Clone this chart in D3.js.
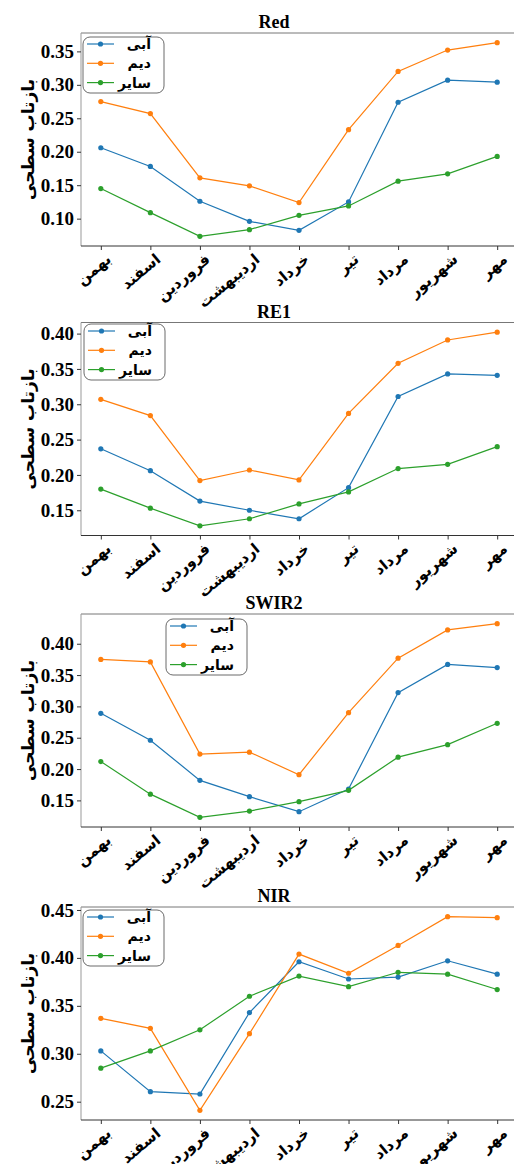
<!DOCTYPE html>
<html>
<head>
<meta charset="utf-8">
<script src="https://cdn.jsdelivr.net/npm/d3@7"></script>
<style>
  body { margin: 0; background: #fff; }
  svg { display: block; }
</style>
</head>
<body>
<div id="chart"></div>
<script>
// Months (x categories) and series names
const months = ["بهمن", "اسفند", "فروردین", "اردیبهشت", "خرداد", "تیر", "مرداد", "شهریور", "مهر"];
const seriesNames = ["آبی", "دیم", "سایر"];
const yLabel = "بازتاب سطحی";

// Red band
const redAbi   = [0.206, 0.178, 0.126, 0.096, 0.0825, 0.125, 0.274, 0.307, 0.304];
const redDeym  = [0.275, 0.257, 0.161, 0.149, 0.124, 0.233, 0.320, 0.352, 0.363];
const redSayer = [0.145, 0.109, 0.0736, 0.0836, 0.105, 0.119, 0.156, 0.167, 0.193];
const redTicks = [0.10, 0.15, 0.20, 0.25, 0.30, 0.35];

// RE1 band
const re1Abi   = [0.237, 0.206, 0.163, 0.150, 0.138, 0.182, 0.311, 0.343, 0.341];
const re1Deym  = [0.307, 0.284, 0.192, 0.207, 0.193, 0.287, 0.358, 0.391, 0.402];
const re1Sayer = [0.180, 0.153, 0.128, 0.138, 0.159, 0.176, 0.209, 0.215, 0.240];
const re1Ticks = [0.15, 0.20, 0.25, 0.30, 0.35, 0.40];

// SWIR2 band
const swirAbi   = [0.289, 0.246, 0.182, 0.156, 0.132, 0.168, 0.322, 0.367, 0.362];
const swirDeym  = [0.375, 0.371, 0.224, 0.227, 0.191, 0.290, 0.377, 0.422, 0.432];
const swirSayer = [0.212, 0.160, 0.123, 0.133, 0.148, 0.166, 0.219, 0.239, 0.273];
const swirTicks = [0.15, 0.20, 0.25, 0.30, 0.35, 0.40];

// NIR band
const nirAbi   = [0.303, 0.2605, 0.258, 0.343, 0.396, 0.378, 0.380, 0.397, 0.383];
const nirDeym  = [0.337, 0.3265, 0.241, 0.321, 0.404, 0.384, 0.413, 0.443, 0.442];
const nirSayer = [0.285, 0.303, 0.325, 0.360, 0.381, 0.370, 0.385, 0.383, 0.367];
const nirTicks = [0.25, 0.30, 0.35, 0.40, 0.45];

const colors = ["#1f77b4", "#ff7f0e", "#2ca02c"];

const W = 514, H = 1164;
const plotLeft = 81, plotRight = 517, plotH = 213;
const serif = "'Liberation Serif', 'Times New Roman', 'DejaVu Serif', serif";
const arabicFont = "'DejaVu Sans', 'Noto Sans', sans-serif";

const panels = [
  { title: "Red",   series: [redAbi, redDeym, redSayer],    ticks: redTicks,  top: 33,    legendX: 83,  legendY: 37 },
  { title: "RE1",   series: [re1Abi, re1Deym, re1Sayer],    ticks: re1Ticks,  top: 322.5, legendX: 84,  legendY: 324 },
  { title: "SWIR2", series: [swirAbi, swirDeym, swirSayer], ticks: swirTicks, top: 614,   legendX: 166, legendY: 619 },
  { title: "NIR",   series: [nirAbi, nirDeym, nirSayer],    ticks: nirTicks,  top: 907,   legendX: 83,  legendY: 910 }
];

const svg = d3.select("#chart").append("svg")
  .attr("width", W)
  .attr("height", H)
  .style("background", "#fff");

const x = d3.scalePoint()
  .domain(months)
  .range([plotLeft, plotRight])
  .padding(0.4);

panels.forEach(p => {
  const bottom = p.top + plotH;
  const all = p.series.flat();
  const [lo, hi] = d3.extent(all);
  const pad = (hi - lo) * 0.05;
  const y = d3.scaleLinear()
    .domain([lo - pad, hi + pad])
    .range([bottom, p.top]);

  const g = svg.append("g");

  // Spines
  g.append("line").attr("x1", plotLeft).attr("x2", plotRight).attr("y1", p.top).attr("y2", p.top)
    .attr("stroke", "#777").attr("stroke-width", 1);
  g.append("line").attr("x1", plotLeft).attr("x2", plotLeft).attr("y1", p.top).attr("y2", bottom)
    .attr("stroke", "#999").attr("stroke-width", 1);
  g.append("line").attr("x1", plotLeft).attr("x2", plotRight).attr("y1", bottom).attr("y2", bottom)
    .attr("stroke", "#333").attr("stroke-width", 1);

  // Title
  g.append("text")
    .attr("x", 274)
    .attr("y", p.top - 5)
    .attr("text-anchor", "middle")
    .attr("font-family", serif)
    .attr("font-weight", "bold")
    .attr("font-size", 18)
    .text(p.title);

  // Y axis
  const yAxis = g.append("g")
    .attr("transform", `translate(${plotLeft},0)`)
    .call(d3.axisLeft(y).tickValues(p.ticks).tickFormat(d3.format(".2f")).tickSize(4).tickPadding(3));
  yAxis.select(".domain").remove();
  yAxis.selectAll("text")
    .attr("font-family", serif)
    .attr("font-weight", "bold")
    .attr("font-size", 19)
    .attr("fill", "#000");
  yAxis.selectAll("line").attr("stroke", "#333");

  // Y label
  g.append("text")
    .attr("transform", `translate(28,${(p.top + bottom) / 2}) rotate(-90)`)
    .attr("text-anchor", "middle")
    .attr("dominant-baseline", "central")
    .attr("font-family", arabicFont)
    .attr("font-weight", "bold")
    .attr("font-size", 17)
    .text(yLabel);

  // X axis ticks
  const xAxis = g.append("g")
    .attr("transform", `translate(0,${bottom})`)
    .call(d3.axisBottom(x).tickSize(4).tickFormat(""));
  xAxis.select(".domain").remove();
  xAxis.selectAll("line").attr("stroke", "#333");

  // X labels, rotated so that their right end sits by the tick
  months.forEach(m => {
    g.append("text")
      .attr("transform", `translate(${x(m) + 8},${bottom + 11}) rotate(-40)`)
      .attr("text-anchor", "end")
      .attr("dominant-baseline", "central")
      .attr("font-family", arabicFont)
      .attr("font-weight", "bold")
      .attr("font-size", 15)
      .text(m);
  });

  // Lines and markers
  const line = d3.line()
    .x((d, i) => x(months[i]))
    .y(d => y(d));

  p.series.forEach((s, k) => {
    g.append("path")
      .datum(s)
      .attr("d", line)
      .attr("fill", "none")
      .attr("stroke", colors[k])
      .attr("stroke-width", 1.2);
    g.selectAll(null)
      .data(s)
      .enter().append("circle")
      .attr("cx", (d, i) => x(months[i]))
      .attr("cy", d => y(d))
      .attr("r", 2.6)
      .attr("fill", colors[k]);
  });

  // Legend
  const lg = g.append("g").attr("transform", `translate(${p.legendX},${p.legendY})`);
  lg.append("rect")
    .attr("width", 81)
    .attr("height", 56)
    .attr("rx", 7)
    .attr("fill", "#fff")
    .attr("fill-opacity", 0.85)
    .attr("stroke", "#444")
    .attr("stroke-width", 0.8);
  seriesNames.forEach((name, k) => {
    const ry = 7 + k * 19.3;
    lg.append("line")
      .attr("x1", 4).attr("x2", 31).attr("y1", ry).attr("y2", ry)
      .attr("stroke", colors[k]).attr("stroke-width", 1.2);
    lg.append("circle")
      .attr("cx", 17.5).attr("cy", ry).attr("r", 2.6)
      .attr("fill", colors[k]);
    lg.append("text")
      .attr("x", 68)
      .attr("y", ry)
      .attr("text-anchor", "end")
      .attr("dominant-baseline", "central")
      .attr("font-family", arabicFont)
      .attr("font-weight", "bold")
      .attr("font-size", 14)
      .text(name);
  });
});
</script>
</body>
</html>
